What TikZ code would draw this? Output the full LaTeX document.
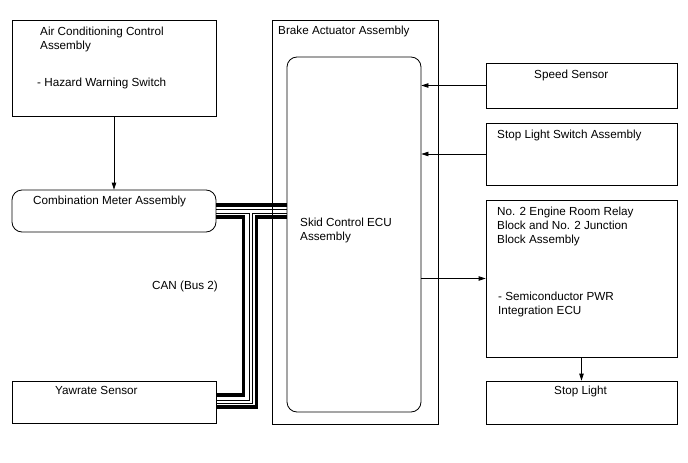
\documentclass[tikz,border=0pt]{standalone}
\usepackage{fontspec}
\setmainfont{Liberation Sans}
\usetikzlibrary{arrows.meta,calc}

\begin{document}
\begin{tikzpicture}[x=1pt,y=-1pt,
    box/.style={draw,line width=0.8pt,inner sep=0pt},
    rbox/.style={box,rounded corners=10pt},
    lbl/.style={anchor=base west,inner sep=0pt,align=left,
      font=\fontsize{11.7}{14}\selectfont},
    arr/.style={-{Triangle[length=7pt,width=4.5pt]},line width=0.8pt},
    busthick/.style={line width=3.6pt},
    busthin/.style={line width=0.9pt}]
  \useasboundingbox (0,0) rectangle (688,463);
  % boxes
  \node[box,minimum width=204,minimum height=96] (ac) at (114,68) {};
  \node[rbox,minimum width=204,minimum height=42] (meter) at (114,211) {};
  \node[box,minimum width=204,minimum height=42] (yaw) at (114,402) {};
  \node[box,minimum width=166,minimum height=404] (brake) at (355,222) {};
  \node[rbox,minimum width=134,minimum height=355] (ecu) at (354,234.5) {};
  \node[box,minimum width=191,minimum height=45] (speed) at (581.5,85.5) {};
  \node[box,minimum width=191,minimum height=62] (stopsw) at (581.5,154) {};
  \node[box,minimum width=191,minimum height=157] (relay) at (581.5,278.5) {};
  \node[box,minimum width=191,minimum height=43] (light) at (581.5,402.5) {};
  % texts (multi-line nodes sit on their last line)
  \node[lbl] (actxt) at (40,49) {Air Conditioning Control\\Assembly};
  \node[lbl] (hazard) at (37,86) {- Hazard Warning Switch};
  \node[lbl] (metertxt) at (33,204) {Combination Meter Assembly};
  \node[lbl] (yawtxt) at (55,394) {Yawrate Sensor};
  \node[lbl] (braketxt) at (278,34) {Brake Actuator Assembly};
  \node[lbl] (ecutxt) at (300,240) {Skid Control ECU\\Assembly};
  \node[lbl] (speedtxt) at (534,78) {Speed Sensor};
  \node[lbl] (stopswtxt) at (497,138) {Stop Light Switch Assembly};
  \node[lbl] (relaytxt) at (497,243) {No. 2 Engine Room Relay\\Block and No. 2 Junction\\Block Assembly};
  \node[lbl] (pwrtxt) at (498,314) {- Semiconductor PWR\\Integration ECU};
  \node[lbl] (lighttxt) at (554,394) {Stop Light};
  \node[lbl] (cantxt) at (152,289) {CAN (Bus 2)};
  % arrows
  \draw[arr] (ac.south) -- (ac.south |- meter.north);
  \draw[arr] (speed.west) -- (speed.west -| ecu.east);
  \draw[arr] (stopsw.west) -- (stopsw.west -| ecu.east);
  \draw[arr] (ecu.east |- relay.west) -- (relay.west);
  \draw[arr] (relay.south) -- (light.north);
  % CAN bus
  \draw[busthick] ($(meter.east)+(0,-6)$) -- ($(meter.east -| ecu.west)+(0,-6)$);
  \draw[busthin] ($(meter.east)+(0,-2)$) -- ($(meter.east -| ecu.west)+(0,-2)$);
  \draw[busthin] ($(meter.east)+(0,2)$) -| ($(yaw.east)+(33,-2)$) -- ($(yaw.east)+(0,-2)$);
  \draw[busthick] ($(meter.east)+(0,6)$) -| ($(yaw.east)+(27,-7)$) -- ($(yaw.east)+(0,-7)$);
  \draw[busthin] ($(meter.east -| ecu.west)+(0,2)$) -| ($(yaw.east)+(36,1)$) -- ($(yaw.east)+(0,1)$);
  \draw[busthick] ($(meter.east -| ecu.west)+(0,6)$) -| ($(yaw.east)+(40,5)$) -- ($(yaw.east)+(0,5)$);
\end{tikzpicture}
\end{document}
